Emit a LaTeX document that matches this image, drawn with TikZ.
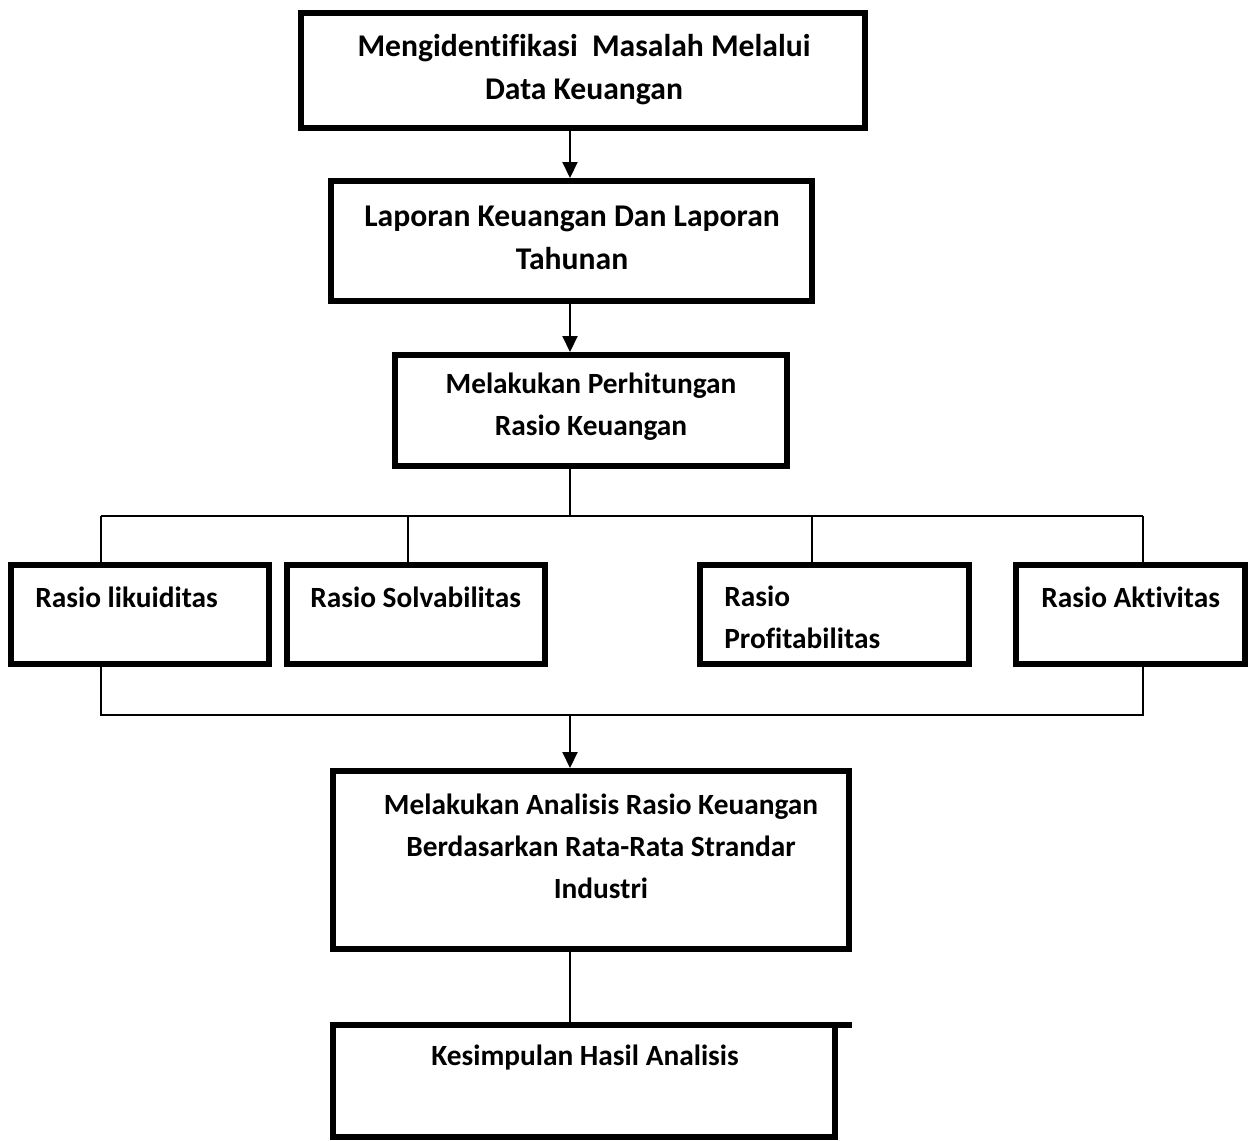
\documentclass[tikz,border=0pt]{standalone}
\usepackage{fontspec}
\setmainfont{Carlito}[Ligatures=NoCommon]
\usetikzlibrary{arrows.meta,fit}
\begin{document}
\begin{tikzpicture}[x=0.02cm,y=-0.02cm,
  box/.style={draw=black,line width=3.4pt,inner sep=0pt},
  txt/.style={font=\fontsize{16.7}{24}\selectfont\bfseries,inner sep=0pt,align=center},
  bigtxt/.style={font=\fontsize{18}{24.5}\selectfont\bfseries,inner sep=0pt,align=center},
  ltxt/.style={font=\fontsize{16.7}{24}\selectfont\bfseries,inner sep=0pt,align=left,anchor=west},
  conn/.style={draw=black,line width=1.1pt},
  arr/.style={conn,-{Triangle[width=0.3cm,length=0.32cm]}}]
\useasboundingbox (0,0) rectangle (1251,1140);
% boxes
\node[box,fit={(301,13) (865,128)}] (b1) {};
\node[box,fit={(331,181) (812,301)}] (b2) {};
\node[box,fit={(395,355) (787,466)}] (b3) {};
\node[box,fit={(11,565) (269,664)}] (b4) {};
\node[box,fit={(287,565) (545,664)}] (b5) {};
\node[box,fit={(700,565) (969,664)}] (b6) {};
\node[box,fit={(1016,565) (1245,664)}] (b7) {};
\node[box,fit={(333,771) (849,949)}] (b8) {};
\node[box,fit={(333,1025) (835,1137)}] (b9) {};
\draw[line width=3.4pt] ([xshift=-1.7pt,yshift=-1.7pt]b9.north east) -- ++(17,0);
% texts
\node[bigtxt] (t1) at (584,70) {Mengidentifikasi\ \ Masalah Melalui\\Data Keuangan};
\node[bigtxt] (t2) at (572,238) {Laporan Keuangan Dan Laporan\\Tahunan};
\node[txt] (t3) at (591,407) {Melakukan Perhitungan\\Rasio Keuangan};
\node[ltxt] (t4) at (35,597) {Rasio likuiditas};
\node[ltxt] (t5) at (310,597) {Rasio Solvabilitas};
\node[ltxt] (t6) at (724,617) {Rasio\\Profitabilitas};
\node[ltxt] (t7) at (1041,597) {Rasio Aktivitas};
\node[txt] (t8) at (601,846) {Melakukan Analisis Rasio Keuangan\\Berdasarkan Rata-Rata Strandar\\Industri};
\node[txt] (t9) at (585,1057) {Kesimpulan Hasil Analisis};
% junction coordinates
\coordinate (j1) at (570,516);
\coordinate (ja) at (101,516);
\coordinate (jb) at (408,516);
\coordinate (jc) at (812,516);
\coordinate (jd) at (1143,516);
\coordinate (k1) at (570,715);
\coordinate (ka) at (101,715);
\coordinate (kd) at (1143,715);
% connectors
\draw[arr] (b1.south -| k1) -- (b2.north -| k1);
\draw[arr] (b2.south -| k1) -- (b3.north -| k1);
\draw[conn] (b3.south -| j1) -- (j1);
\draw[conn] (ja) -- (jd);
\draw[conn] (ja) -- (b4.north -| ja);
\draw[conn] (jb) -- (b5.north -| jb);
\draw[conn] (jc) -- (b6.north -| jc);
\draw[conn] (jd) -- (b7.north -| jd);
\draw[conn] (b4.south -| ka) -- (ka) -- (kd) -- (b7.south -| kd);
\draw[arr] (k1) -- (b8.north -| k1);
\draw[conn] (b8.south -| k1) -- (b9.north -| k1);
\end{tikzpicture}
\end{document}
